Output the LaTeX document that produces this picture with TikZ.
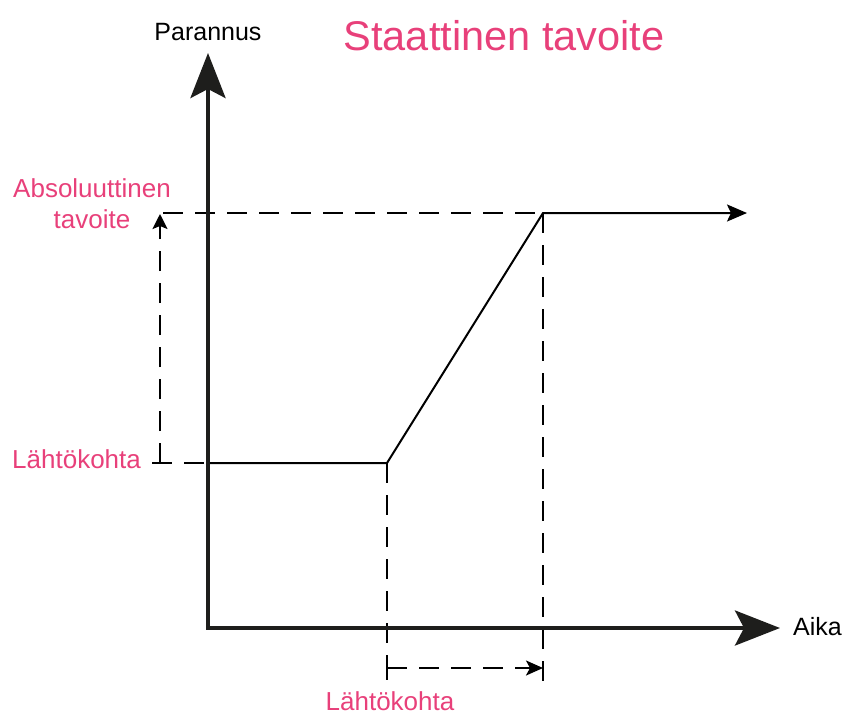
\documentclass[tikz,border=0pt]{standalone}
\usepackage{fontspec}
\setmainfont{Liberation Sans}
\usetikzlibrary{arrows.meta}
\definecolor{pinklabel}{RGB}{232,64,122}
\definecolor{axisblack}{RGB}{30,30,28}
\tikzset{
  axisline/.style={line width=4pt, draw=axisblack, -{Stealth[length=45pt,width=35pt,inset=9pt]}},
  curveline/.style={line width=2pt, black},
  guide/.style={line width=2pt, black, dash pattern=on 20pt off 12pt},
  pinktext/.style={text=pinklabel, font=\fontsize{26}{31}\selectfont, inner sep=0pt},
  blacktext/.style={text=black, font=\fontsize{25}{30}\selectfont, inner sep=0pt},
}
\begin{document}
\begin{tikzpicture}[x=1pt,y=-1pt]
\useasboundingbox (0,0) rectangle (845,715);
% points
\coordinate (O) at (208,628);
\coordinate (Ytop) at (208,53);
\coordinate (Xend) at (780,628);
\coordinate (S0) at (208,463);
\coordinate (S1) at (387,463);
\coordinate (T1) at (543,213);
\coordinate (Tend) at (747,213);
\coordinate (Lg) at (152,463);
\coordinate (Ag) at (160,463);
\coordinate (Atop) at (160,214);
\coordinate (Tg) at (163,213);
\coordinate (S1b) at (387,682);
\coordinate (T1b) at (543,685);
\coordinate (Ha) at (387,668);
\coordinate (Hb) at (543,668);
% dashed guides
\draw[guide] (Lg) -- (S0);
\draw[guide] (Tg) -- (T1);
\draw[guide, -{Stealth[length=15pt,width=15pt,inset=3pt]}] (Ag) -- (Atop);
\draw[guide] (S1) -- (S1b);
\draw[guide] (T1) -- (T1b);
\draw[line width=2pt] (387,656) -- (387,680);
\draw[guide, -{Stealth[length=17pt,width=15pt,inset=4pt]}] (Ha) -- (Hb);
% curve
\draw[curveline, -{Stealth[length=20pt,width=17pt,inset=4pt]}] (S0) -- (S1) -- (T1) -- (Tend);
% axes
\draw[axisline] (O) -- (Ytop);
\draw[axisline] ([xshift=-2pt]O) -- (Xend);
% labels
\node[blacktext, anchor=base] (parannus) at (208,40) {Parannus};
\node[text=pinklabel, font=\fontsize{41.5}{48}\selectfont, inner sep=0pt, anchor=base] (title) at (504,50) {Staattinen tavoite};
\node[pinktext, anchor=base] (abs1) at (92,197) {Absoluuttinen};
\node[pinktext, anchor=base] (abs2) at (92,228) {tavoite};
\node[pinktext, anchor=base west] (lk1) at (12,468) {Lähtökohta};
\node[pinktext, anchor=base] (lk2) at (390,710) {Lähtökohta};
\node[blacktext, anchor=base west] (aika) at (793,635) {Aika};
\end{tikzpicture}
\end{document}
